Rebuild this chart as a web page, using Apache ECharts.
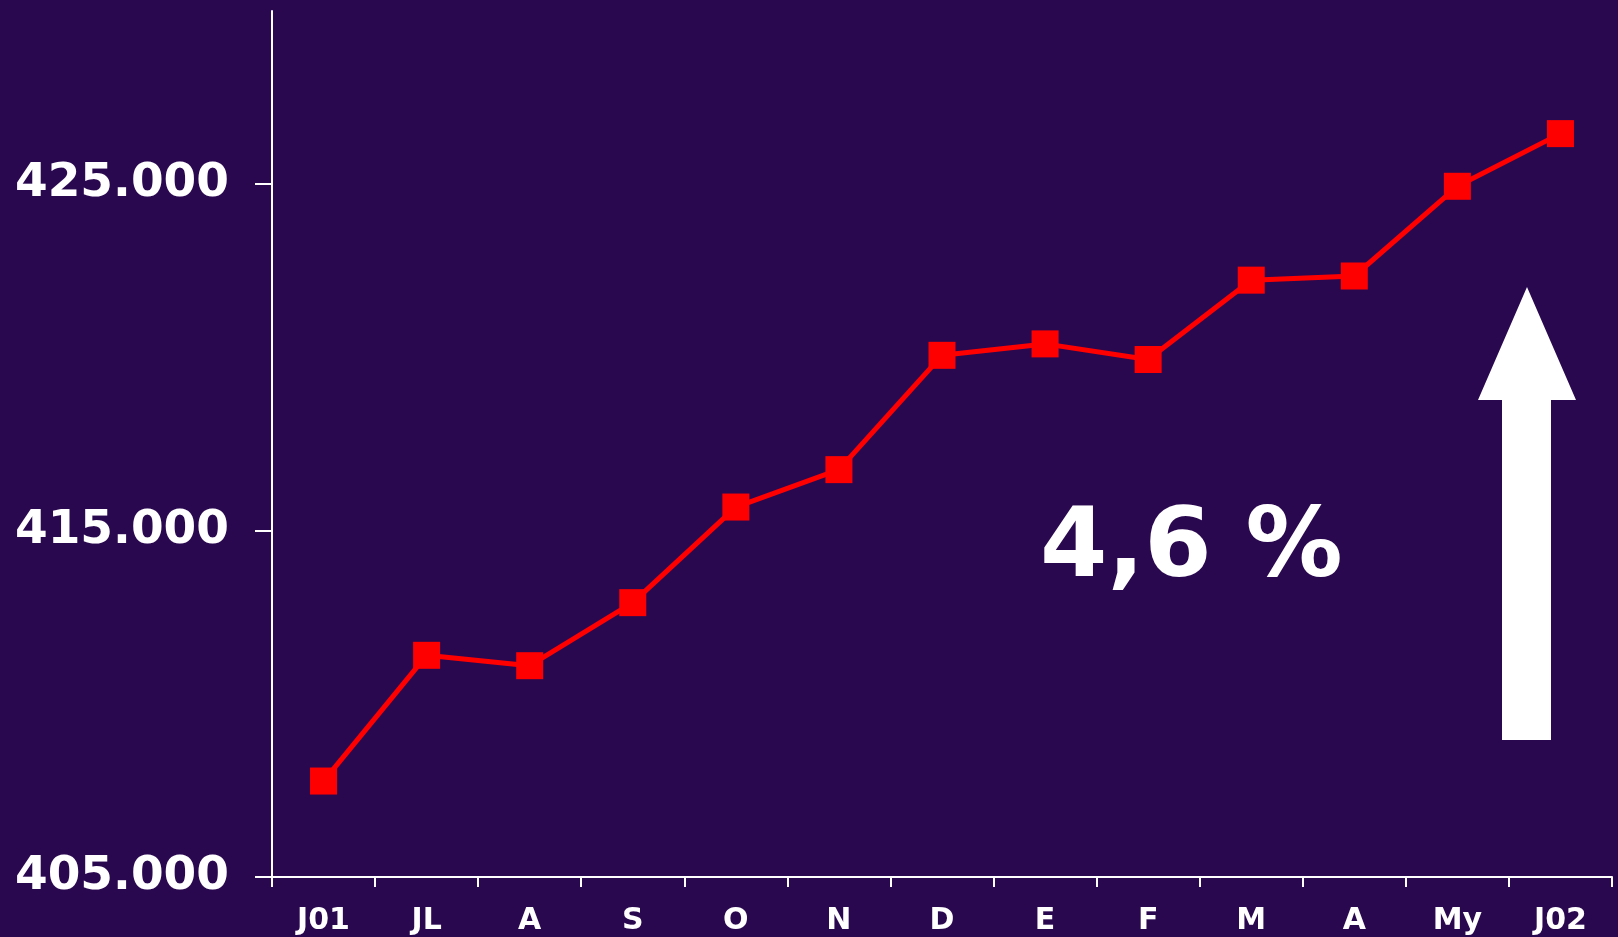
<!DOCTYPE html>
<html>
<head>
<meta charset="utf-8">
<script src="https://cdn.jsdelivr.net/npm/echarts@6/dist/echarts.min.js"></script>
<style>
  html, body { margin: 0; padding: 0; background: #2a0850; }
  #chart { width: 1618px; height: 937px; }
</style>
</head>
<body>
<div id="chart"></div>
<script>
// months from June 2001 to June 2002
const months = ['J01', 'JL', 'A', 'S', 'O', 'N', 'D', 'E', 'F', 'M', 'A', 'My', 'J02'];
const values = [407770, 411400, 411100, 412920, 415680, 416760, 420060, 420390, 419940, 422230, 422350, 424940, 426460];
const yTicks = [405000, 415000, 425000];
const growthLabel = '4,6 %';

const fmt = v => String(v).replace(/\B(?=(\d{3})+(?!\d))/g, '.');

const chart = echarts.init(document.getElementById('chart'));

const option = {
  backgroundColor: '#2a0850',
  animation: false,
  grid: { left: 272, right: 6, top: 11, bottom: 60 },
  xAxis: {
    type: 'category',
    data: months,
    boundaryGap: true,
    axisLine: { lineStyle: { color: '#fff', width: 2 } },
    axisTick: { show: true, length: 10, lineStyle: { color: '#fff', width: 2 } },
    axisLabel: {
      color: '#fff',
      fontFamily: 'DejaVu Sans',
      fontWeight: 'bold',
      fontSize: 30,
      margin: 29
    },
    splitLine: { show: false }
  },
  yAxis: {
    type: 'value',
    min: 405000,
    max: 430000,
    axisLine: { show: true, lineStyle: { color: '#fff', width: 2 } },
    axisTick: { show: true, length: 17, customValues: yTicks, lineStyle: { color: '#fff', width: 2 } },
    axisLabel: {
      customValues: yTicks,
      formatter: fmt,
      color: '#fff',
      fontFamily: 'DejaVu Sans',
      fontWeight: 'bold',
      fontSize: 47,
      margin: 43
    },
    splitLine: { show: false }
  },
  series: [{
    type: 'line',
    data: values,
    symbol: 'rect',
    symbolSize: 27,
    lineStyle: { color: '#ff0000', width: 5 },
    itemStyle: { color: '#ff0000' },
    z: 3
  }],
  graphic: [
    {
      type: 'polygon',
      shape: {
        points: [[1527, 287], [1576, 400], [1551, 400], [1551, 740], [1502, 740], [1502, 400], [1478, 400]]
      },
      style: { fill: '#ffffff' }
    },
    {
      type: 'text',
      left: 1040,
      top: 502,
      style: {
        text: growthLabel,
        fill: '#ffffff',
        font: 'bold 97px "DejaVu Sans"'
      }
    }
  ]
};

chart.setOption(option);
</script>
</body>
</html>
